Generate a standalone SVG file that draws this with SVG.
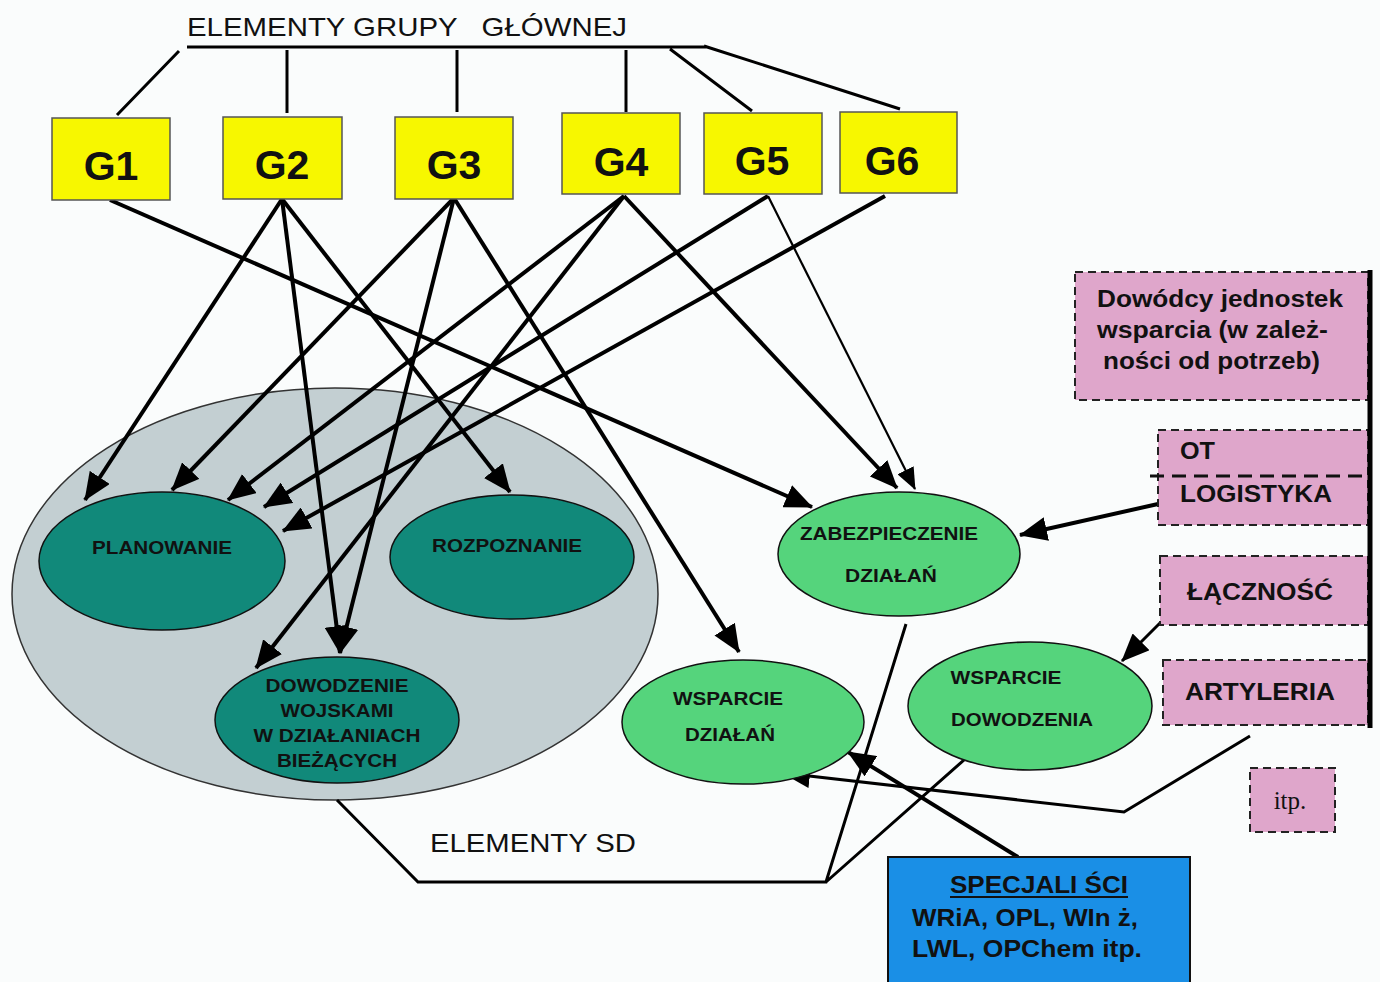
<svg xmlns="http://www.w3.org/2000/svg" width="1380" height="982" viewBox="0 0 1380 982">
<defs>
<style>
.g{fill:#f7f700;stroke:#555;stroke-width:1.5}
.gt{font-family:"Liberation Sans",Arial,sans-serif;font-weight:bold;font-size:41px;fill:#111;text-anchor:middle}
.teal{fill:#11897a;stroke:#111;stroke-width:1.5}
.lg{fill:#55d47c;stroke:#111;stroke-width:1.5}
.et{font-family:"Liberation Sans",Arial,sans-serif;font-weight:bold;font-size:18.5px;fill:#111;text-anchor:middle}
.pink{fill:#dfa6cb;stroke:#222;stroke-width:2;stroke-dasharray:8 5}
.pt{font-family:"Liberation Sans",Arial,sans-serif;font-weight:bold;font-size:23px;fill:#111}
.lbl{font-family:"Liberation Sans",Arial,sans-serif;font-size:26px;fill:#111}
.c{fill:none;stroke:#000;stroke-width:4}
.thin{fill:none;stroke:#000;stroke-width:2.2}
.ln{fill:none;stroke:#000;stroke-width:3}
</style>
<marker id="ah" markerUnits="userSpaceOnUse" markerWidth="28" markerHeight="24" refX="27" refY="12" orient="auto">
<path d="M0,0 L28,12 L0,24 z" fill="#000"/>
</marker>
<marker id="ahs" markerUnits="userSpaceOnUse" markerWidth="22" markerHeight="18" refX="21" refY="9" orient="auto">
<path d="M0,0 L22,9 L0,18 z" fill="#000"/>
</marker>
</defs>
<rect width="1380" height="982" fill="#fafcfc"/>

<g id="title">
<text class="lbl" x="187" y="36" textLength="440" lengthAdjust="spacingAndGlyphs">ELEMENTY GRUPY &#160; GŁÓWNEJ</text>
<path class="ln" d="M187,47 L706,47 M179,51 L117,115 M287,50 L287,113 M457,50 L457,112 M626,50 L626,112 M670,49 L752,111 M704,46 L900,109"/>
</g>

<g id="sd-group">
<ellipse cx="335" cy="594" rx="323" ry="206" fill="#c3cfd2" stroke="#333" stroke-width="1.5"/>
</g>

<g id="connectors">
<line class="c" x1="110" y1="200" x2="812" y2="507" marker-end="url(#ah)"/>
<line class="c" x1="282" y1="199" x2="85" y2="500" marker-end="url(#ah)"/>
<line class="c" x1="282" y1="199" x2="340" y2="653" marker-end="url(#ah)"/>
<line class="c" x1="282" y1="199" x2="510" y2="492" marker-end="url(#ah)"/>
<line class="c" x1="454" y1="198" x2="172" y2="490" marker-end="url(#ah)"/>
<line class="c" x1="454" y1="198" x2="340" y2="653" marker-end="url(#ah)"/>
<line class="c" x1="454" y1="198" x2="739" y2="652" marker-end="url(#ah)"/>
<line class="c" x1="624" y1="196" x2="228" y2="500" marker-end="url(#ah)"/>
<line class="c" x1="624" y1="196" x2="256" y2="668" marker-end="url(#ah)"/>
<line class="c" x1="624" y1="196" x2="897" y2="488" marker-end="url(#ah)"/>
<line class="c" x1="768" y1="196" x2="264" y2="507" marker-end="url(#ah)"/>
<line class="thin" x1="768" y1="196" x2="915" y2="489" marker-end="url(#ahs)"/>
<line class="c" x1="885" y1="196" x2="283" y2="531" marker-end="url(#ah)"/>
<line class="c" x1="1158" y1="504" x2="1020" y2="535" marker-end="url(#ah)"/>
<line class="ln" x1="1162" y1="621" x2="1122" y2="661" marker-end="url(#ah)"/>
<polyline class="ln" points="1250,736 1124,812 783,773" marker-end="url(#ah)"/>
<line class="c" x1="1018" y1="857" x2="848" y2="752" marker-end="url(#ah)"/>
<path class="ln" d="M337,800 L418,882 L826,882 L906,624 M826,882 L973,752"/>
</g>

<g id="G1"><rect class="g" x="52" y="118" width="118" height="82"/><text class="gt" x="111" y="180">G1</text></g>
<g id="G2"><rect class="g" x="223" y="117" width="119" height="82"/><text class="gt" x="282" y="179">G2</text></g>
<g id="G3"><rect class="g" x="395" y="117" width="118" height="82"/><text class="gt" x="454" y="179">G3</text></g>
<g id="G4"><rect class="g" x="562" y="113" width="118" height="81"/><text class="gt" x="621" y="176">G4</text></g>
<g id="G5"><rect class="g" x="704" y="113" width="118" height="81"/><text class="gt" x="762" y="175">G5</text></g>
<g id="G6"><rect class="g" x="840" y="112" width="117" height="81"/><text class="gt" x="892" y="175">G6</text></g>

<g id="planowanie"><ellipse class="teal" cx="162" cy="561" rx="123" ry="69"/><text class="et" x="162" y="554" textLength="140" lengthAdjust="spacingAndGlyphs">PLANOWANIE</text></g>
<g id="rozpoznanie"><ellipse class="teal" cx="512" cy="557" rx="122" ry="62"/><text class="et" x="507" y="552" textLength="150" lengthAdjust="spacingAndGlyphs">ROZPOZNANIE</text></g>
<g id="dowodzenie"><ellipse class="teal" cx="337" cy="720" rx="122" ry="63"/>
<text class="et" x="337" y="692" textLength="143" lengthAdjust="spacingAndGlyphs">DOWODZENIE</text>
<text class="et" x="337" y="717" textLength="113" lengthAdjust="spacingAndGlyphs">WOJSKAMI</text>
<text class="et" x="337" y="742" textLength="167" lengthAdjust="spacingAndGlyphs">W DZIAŁANIACH</text>
<text class="et" x="337" y="767" textLength="120" lengthAdjust="spacingAndGlyphs">BIEŻĄCYCH</text></g>

<g id="zabezpieczenie"><ellipse class="lg" cx="899" cy="554" rx="121" ry="62"/>
<text class="et" x="889" y="540" textLength="178" lengthAdjust="spacingAndGlyphs">ZABEZPIECZENIE</text>
<text class="et" x="891" y="582" textLength="92" lengthAdjust="spacingAndGlyphs">DZIAŁAŃ</text></g>
<g id="wsparcie-dzialan"><ellipse class="lg" cx="743" cy="722" rx="121" ry="62"/>
<text class="et" x="728" y="705" textLength="110" lengthAdjust="spacingAndGlyphs">WSPARCIE</text>
<text class="et" x="730" y="741" textLength="90" lengthAdjust="spacingAndGlyphs">DZIAŁAŃ</text></g>
<g id="wsparcie-dowodzenia"><ellipse class="lg" cx="1030" cy="706" rx="122" ry="64"/>
<text class="et" x="1006" y="684" textLength="111" lengthAdjust="spacingAndGlyphs">WSPARCIE</text>
<text class="et" x="1022" y="726" textLength="142" lengthAdjust="spacingAndGlyphs">DOWODZENIA</text></g>

<g id="elementy-sd"><text class="lbl" x="430" y="852" textLength="206" lengthAdjust="spacingAndGlyphs">ELEMENTY SD</text></g>

<g id="dowodcy"><rect class="pink" x="1075" y="272" width="293" height="128"/>
<text class="pt" x="1097" y="307" textLength="246" lengthAdjust="spacingAndGlyphs">Dowódcy jednostek</text>
<text class="pt" x="1097" y="338" textLength="231" lengthAdjust="spacingAndGlyphs">wsparcia (w zależ-</text>
<text class="pt" x="1103" y="369" textLength="217" lengthAdjust="spacingAndGlyphs">ności od potrzeb)</text></g>
<g id="ot-logistyka"><rect class="pink" x="1158" y="430" width="210" height="95"/>
<line x1="1150" y1="476" x2="1368" y2="476" stroke="#111" stroke-width="3" stroke-dasharray="14 8"/>
<text class="pt" x="1180" y="459" textLength="35" lengthAdjust="spacingAndGlyphs">OT</text>
<text class="pt" x="1180" y="502" textLength="152" lengthAdjust="spacingAndGlyphs">LOGISTYKA</text></g>
<g id="lacznosc"><rect class="pink" x="1160" y="556" width="208" height="69"/>
<text class="pt" x="1187" y="600" textLength="146" lengthAdjust="spacingAndGlyphs">ŁĄCZNOŚĆ</text></g>
<g id="artyleria"><rect class="pink" x="1163" y="660" width="205" height="65"/>
<text class="pt" x="1185" y="700" textLength="150" lengthAdjust="spacingAndGlyphs">ARTYLERIA</text></g>
<g id="itp"><rect class="pink" x="1250" y="768" width="85" height="64"/>
<text x="1290" y="809" font-family="'Liberation Serif',serif" font-size="25" fill="#111" text-anchor="middle">itp.</text></g>
<line x1="1370" y1="270" x2="1370" y2="728" stroke="#000" stroke-width="5"/>

<g id="specjalisci"><rect x="888" y="857" width="302" height="130" fill="#1a8fe6" stroke="#111" stroke-width="2"/>
<text class="pt" x="950" y="893" textLength="178" lengthAdjust="spacingAndGlyphs">SPECJALI ŚCI</text>
<line x1="950" y1="897" x2="1128" y2="897" stroke="#111" stroke-width="2"/>
<text class="pt" x="912" y="926" textLength="226" lengthAdjust="spacingAndGlyphs">WRiA, OPL, WIn ż,</text>
<text class="pt" x="912" y="957" textLength="230" lengthAdjust="spacingAndGlyphs">LWL, OPChem itp.</text></g>
</svg>
